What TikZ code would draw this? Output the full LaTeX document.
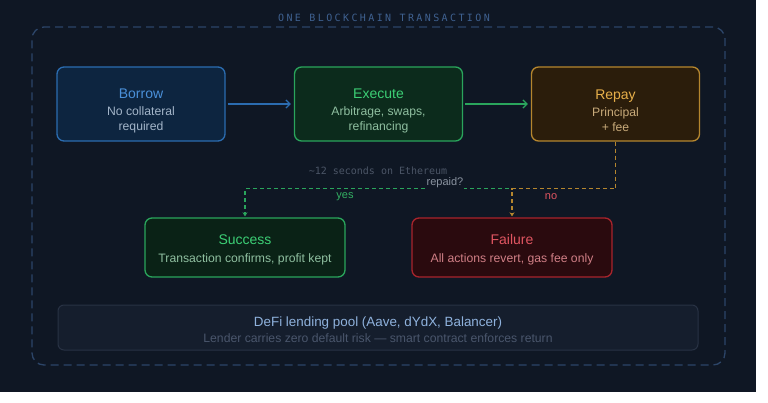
\documentclass[tikz,border=0pt]{standalone}
\usepackage{fontspec}
\setmainfont{Liberation Sans}
\newfontfamily\monofont{DejaVu Sans Mono}
\newfontfamily\spacedmono[LetterSpace=24]{DejaVu Sans Mono}
\usetikzlibrary{arrows.meta}

\definecolor{bg}{HTML}{0F1724}
\definecolor{frameline}{HTML}{2C4568}
\definecolor{frametitle}{HTML}{3F6190}
\definecolor{bluefill}{HTML}{0D2540}
\definecolor{blueline}{HTML}{2B6CB0}
\definecolor{bluetitle}{HTML}{4A90D9}
\definecolor{bluesub}{HTML}{A3B5C9}
\definecolor{greenfill}{HTML}{0C2B1C}
\definecolor{greenline}{HTML}{2AA55C}
\definecolor{greentitle}{HTML}{3CCF75}
\definecolor{greensub}{HTML}{8FBFA0}
\definecolor{amberfill}{HTML}{2B1D0B}
\definecolor{amberline}{HTML}{B5862E}
\definecolor{ambertitle}{HTML}{E8B04A}
\definecolor{ambersub}{HTML}{C8AA7A}
\definecolor{redfill}{HTML}{2A0A0E}
\definecolor{redline}{HTML}{A8242C}
\definecolor{redtitle}{HTML}{E05561}
\definecolor{redsub}{HTML}{D07F86}
\definecolor{poolfill}{HTML}{151E2D}
\definecolor{poolline}{HTML}{283244}
\definecolor{pooltitle}{HTML}{8FB2DD}
\definecolor{poolsub}{HTML}{4A566C}
\definecolor{dimtext}{HTML}{4B5566}
\definecolor{asktext}{HTML}{8A93A0}

\newcommand{\titlesize}{\fontsize{14}{16}\selectfont}
\newcommand{\subsize}{\fontsize{12.2}{15}\selectfont}

\begin{document}
\begin{tikzpicture}[x=1pt,y=-1pt,
  box/.style={rounded corners=7pt,line width=1.3pt,inner sep=0pt},
  topbox/.style={box,minimum width=168pt,minimum height=74pt},
  endbox/.style={box,minimum width=200pt,minimum height=59pt},
  flow/.style={line width=1.3pt,shorten <=2pt,shorten >=3pt,-{Straight Barb[length=4pt,width=8pt]}},
  branch/.style={line width=1.2pt,dash pattern=on 4pt off 3pt,-{Stealth[length=4pt,width=5pt]}},
  small/.style={font=\fontsize{11}{13}\selectfont}]
  \useasboundingbox (0,0) rectangle (768,403);
  \fill[bg] (0,0) rectangle (756,392);

  \node[draw=frameline,line width=1.3pt,dash pattern=on 8pt off 5pt,rounded corners=12pt,minimum width=693pt,minimum height=338pt] (frame) at (378.5,196) {};
  \node[text=frametitle,font=\spacedmono\fontsize{10}{12}\selectfont] (title) at (384,18) {ONE BLOCKCHAIN TRANSACTION};

  \node[topbox,draw=blueline,fill=bluefill,label={[align=center,font=\subsize,text=bluesub,yshift=-6.5pt]center:{{\titlesize\color{bluetitle}Borrow}\\[2pt]No collateral\\required}}] (borrow) at (141,104) {};
  \node[topbox,draw=greenline,fill=greenfill,label={[align=center,font=\subsize,text=greensub,yshift=-6.5pt]center:{{\titlesize\color{greentitle}Execute}\\[2pt]Arbitrage, swaps,\\refinancing}}] (execute) at (378.5,104) {};
  \node[topbox,draw=amberline,fill=amberfill,label={[align=center,font=\subsize,text=ambersub,yshift=-6.5pt]center:{{\titlesize\color{ambertitle}Repay}\\[2pt]Principal\\+ fee}}] (repay) at (615.5,104) {};

  \node[endbox,draw=greenline,fill=greenfill!80!black,label={[align=center,font=\subsize,text=greensub,yshift=-2.5pt]center:{{\titlesize\color{greentitle}Success}\\[3pt]Transaction confirms, profit kept}}] (success) at (245,247.5) {};
  \node[endbox,draw=redline,fill=redfill,label={[align=center,font=\subsize,text=redsub,yshift=-2.5pt]center:{{\titlesize\color{redtitle}Failure}\\[3pt]All actions revert, gas fee only}}] (failure) at (512,247.5) {};

  \node[rounded corners=6pt,line width=1pt,draw=poolline,fill=poolfill,minimum width=640pt,minimum height=45pt,label={[align=center,font=\subsize,text=poolsub,yshift=-2pt]center:{{\fontsize{13.4}{16}\selectfont\color{pooltitle}DeFi lending pool (Aave, dYdX, Balancer)}\\[1pt]Lender carries zero default risk --- smart contract enforces return}}] (pool) at (378,327.5) {};

  \draw[flow,blueline] (borrow) -- (execute);
  \draw[flow,greenline] (execute) -- (repay);

  \draw[branch,greenline] (repay.south) -- ++(0,47) -| ([yshift=1pt]success.north);
  \draw[branch,amberline] (repay.south) -- ++(0,47) -| ([yshift=1pt]failure.north);

  \node[text=dimtext,font=\monofont\fontsize{10}{12}\selectfont] (time) at (378,171) {\textasciitilde12 seconds on Ethereum};
  \node[small,fill=bg,text=asktext,inner sep=1pt] (repaid) at (445,183) {repaid?};
  \node[small,text=greentitle!85!black] (yes) at (345,197) {yes};
  \node[small,text=redtitle] (no) at (551,197) {no};
\end{tikzpicture}
\end{document}
